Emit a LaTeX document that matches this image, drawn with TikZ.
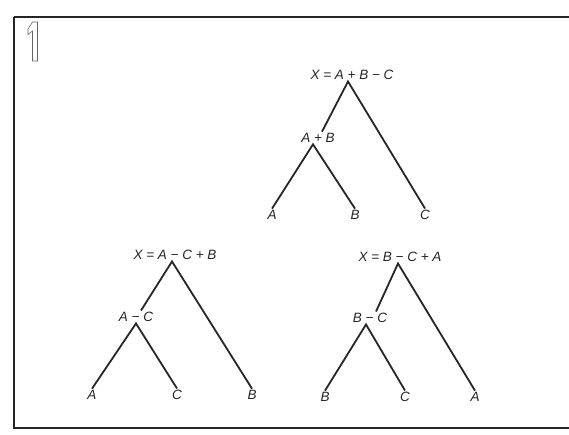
\documentclass[tikz,border=0pt]{standalone}
\usepackage{fontspec}
\setsansfont{Liberation Sans}
\usepackage{tikz}
\usetikzlibrary{positioning}

\begin{document}
\begin{tikzpicture}[
  x=1pt, y=-1pt,
  term/.style={inner sep=1.5pt, font=\fontsize{13.5}{15}\selectfont\sffamily\itshape, text=black!85},
  branch/.style={draw=black!85, line width=1.8pt},
]
\useasboundingbox (0,0) rectangle (569,435);
\clip (0,0) rectangle (569,435);

% Frame and figure number
\draw[black!85, line width=2.5pt] (14,17) -- (14,428) -- (580,428) (14,17) -- (580,17);
\draw[black!60, line width=0.6pt] (32.5,22) -- (37.5,22) -- (37.5,61) -- (32.5,61) -- (32.5,31) -- (28,34.5) -- (28,29) -- cycle;

% Tree 1: X = A + B - C
\node[term] (r1) at (352,75) {X = A + B − C};
\node[term] (s1) at (318,138) {A + B};
\node[term] (a1) at (272,215) {A};
\node[term] (b1) at (355,215) {B};
\node[term] (c1) at (425,215) {C};

% Tree 2: X = A - C + B
\node[term] (r2) at (175,255) {X = A − C + B};
\node[term] (s2) at (136,317) {A − C};
\node[term] (a2) at (92,395) {A};
\node[term] (c2) at (177,395) {C};
\node[term] (b2) at (252,395) {B};

% Tree 3: X = B - C + A
\node[term] (r3) at (400,257) {X = B − C + A};
\node[term] (s3) at (370,318) {B − C};
\node[term] (b3) at (325,397) {B};
\node[term] (c3) at (405,397) {C};
\node[term] (a3) at (475,397) {A};

% Branches
\draw[branch] (c1.north) -- ([xshift=-4pt]r1.south) -- ([xshift=4pt]s1.north);
\draw[branch] (a1.north) -- ([xshift=-5pt]s1.south) -- (b1.north);
\draw[branch] (b2.north) -- ([xshift=-3pt]r2.south) -- ([xshift=5pt]s2.north);
\draw[branch] (a2.north) -- (s2.south) -- (c2.north);
\draw[branch] (a3.north) -- ([xshift=-2pt]r3.south) -- ([xshift=6pt]s3.north);
\draw[branch] (b3.north) -- ([xshift=-4pt]s3.south) -- (c3.north);

\end{tikzpicture}
\end{document}
